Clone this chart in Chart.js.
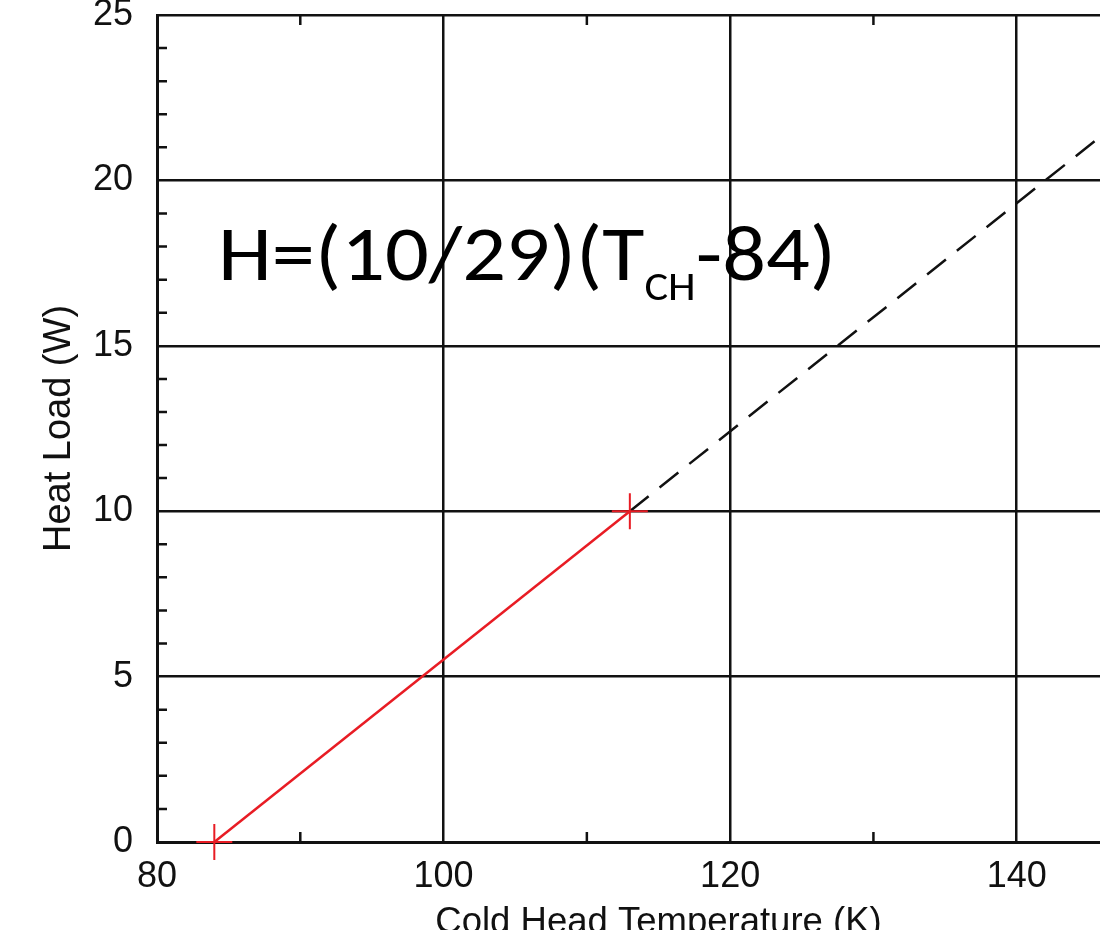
<!DOCTYPE html>
<html><head><meta charset="utf-8">
<script src="https://cdn.jsdelivr.net/npm/chart.js@4.4.1/dist/chart.umd.min.js"></script>
<style>
html,body{margin:0;padding:0;background:#fff;overflow:hidden;width:1100px;height:930px}
#wrap{position:absolute;left:0;top:-5px;width:1180px;height:953px}
canvas{display:block}
</style></head><body>
<div id="wrap"><canvas id="c" width="1180" height="953"></canvas></div>
<script>
// ---- data ----
const measuredT = [84, 113];          // Cold head temperature (K)
const measuredH = [0, 10];            // Heat load (W)
const fitT = [113, 150];              // extrapolated fit, temperature (K)
const fitH = [10, 22.76];             // extrapolated fit, heat load (W)
const xTickValues = [80, 100, 120, 140];
const yTickValues = [0, 5, 10, 15, 20, 25];
const xMinorTicks = [90, 110, 130];
const yMinorTicks = [1,2,3,4,6,7,8,9,11,12,13,14,16,17,18,19,21,22,23,24];
const xTitle = 'Cold Head Temperature (K)';
const yTitle = 'Heat Load (W)';
const eqMain = 'H=(10/29)(T';
const eqSub = 'CH';
const eqTail = '-84)';

const FONT = "'Liberation Sans', Arial, Helvetica, sans-serif";
const RED = 'rgb(232,28,36)';
const INK = '#111';

const toPts = (xs, ys) => xs.map((x, i) => ({x, y: ys[i]}));

const extrasPlugin = {
  id: 'extras',
  afterDraw(chart) {
    const {ctx, chartArea: a, scales: {x, y}} = chart;
    ctx.save();
    ctx.strokeStyle = INK;
    ctx.lineWidth = 2.5;
    const L = 10;
    ctx.beginPath();
    yMinorTicks.forEach(v => {
      const py = y.getPixelForValue(v);
      ctx.moveTo(a.left, py); ctx.lineTo(a.left + L, py);
    });
    xMinorTicks.forEach(v => {
      const px = x.getPixelForValue(v);
      ctx.moveTo(px, a.bottom); ctx.lineTo(px, a.bottom - L);
      ctx.moveTo(px, a.top); ctx.lineTo(px, a.top + L);
    });
    ctx.stroke();

    // equation annotation (positioned in page pixels; canvas is shifted up 5px)
    const mainFont = "78px Carlito, Lato, 'Open Sans', sans-serif";
    const subFont = "40px Carlito, Lato, 'Open Sans', sans-serif";
    ctx.fillStyle = '#000';
    ctx.textBaseline = 'alphabetic';
    ctx.textAlign = 'left';
    ctx.font = mainFont;
    const w1 = ctx.measureText(eqMain).width;
    const w3 = ctx.measureText(eqTail).width;
    ctx.font = subFont;
    const w2 = ctx.measureText(eqSub).width;
    const total = w1 + w2 + w3;
    const x0 = 218, x1 = 836, base = 285;
    const sx = (x1 - x0) / total;
    ctx.translate(x0, base);
    ctx.scale(sx, 1);
    ctx.font = mainFont;
    ctx.fillText(eqMain, 0, 0);
    ctx.font = subFont;
    ctx.fillText(eqSub, w1, 20);
    ctx.font = mainFont;
    ctx.fillText(eqTail, w1 + w2, 0);
    ctx.restore();
  }
};

new Chart(document.getElementById('c'), {
  type: 'scatter',
  data: {
    datasets: [
      {
        label: 'fit',
        data: toPts(fitT, fitH),
        showLine: true,
        borderColor: INK,
        borderWidth: 2.5,
        borderDash: [24, 14],
        pointRadius: 0,
        order: 2
      },
      {
        label: 'measured',
        data: toPts(measuredT, measuredH),
        showLine: true,
        borderColor: RED,
        backgroundColor: RED,
        borderWidth: 2.5,
        pointStyle: 'cross',
        pointRadius: 18,
        pointBorderWidth: 2,
        pointBorderColor: RED,
        clip: false,
        order: 1
      }
    ]
  },
  options: {
    responsive: false,
    devicePixelRatio: 1,
    animation: false,
    events: [],
    layout: {padding: {top: 15, right: 10, left: 0, bottom: 0}},
    plugins: {legend: {display: false}, tooltip: {enabled: false}},
    scales: {
      x: {
        type: 'linear',
        min: 80, max: 150,
        afterBuildTicks: s => { s.ticks = xTickValues.map(v => ({value: v})); },
        afterFit: s => { s.height = 106; s.paddingLeft = 0; s.paddingRight = 0; },
        ticks: {
          color: INK, padding: 13,
          font: {family: FONT, size: 36},
          maxRotation: 0, autoSkip: false
        },
        grid: {color: INK, lineWidth: 2.5, drawTicks: false},
        border: {color: INK, width: 3},
        title: {display: true, text: xTitle, color: INK,
          font: {family: FONT, size: 36.5}, padding: {top: 0, bottom: 3}}
      },
      y: {
        type: 'linear',
        min: 0, max: 25,
        afterBuildTicks: s => { s.ticks = yTickValues.map(v => ({value: v})); },
        afterFit: s => { s.width = 157; s.paddingTop = 0; s.paddingBottom = 0; },
        ticks: {
          color: INK, padding: 24,
          font: {family: FONT, size: 36}, autoSkip: false
        },
        grid: {color: INK, lineWidth: 2.5, drawTicks: false},
        border: {color: INK, width: 3},
        title: {display: true, text: yTitle, color: INK,
          font: {family: FONT, size: 38}, padding: {top: 37, bottom: 0}}
      }
    }
  },
  plugins: [extrasPlugin]
});
</script>
</body></html>
